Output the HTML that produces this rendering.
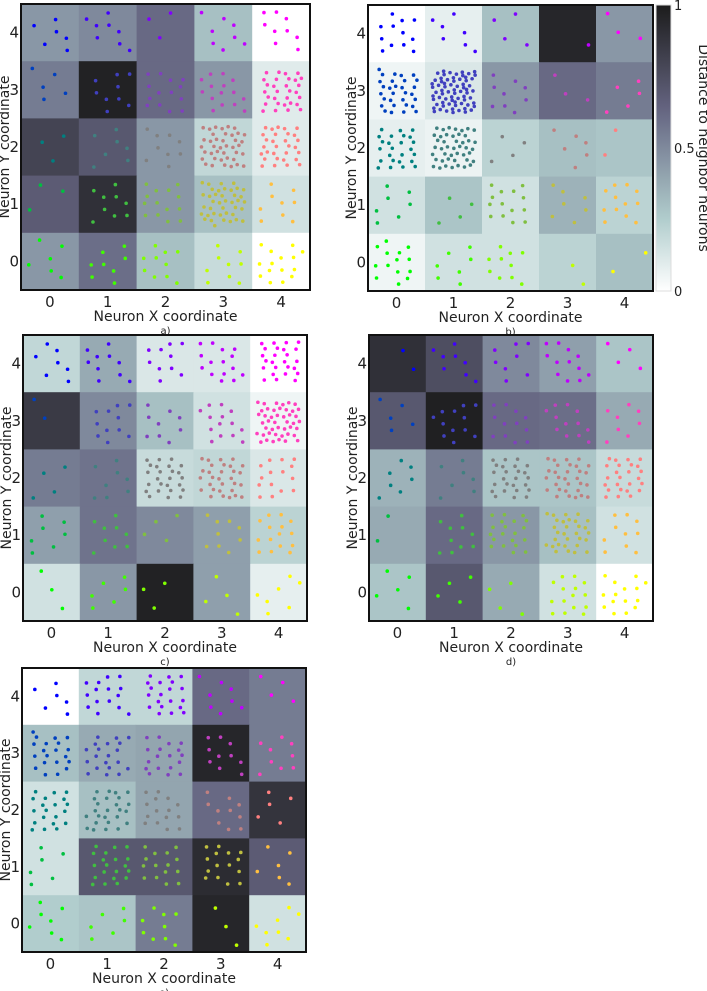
<!DOCTYPE html>
<html><head><meta charset="utf-8">
<style>
html,body{margin:0;padding:0;background:#fff;}
svg{display:block;font-family:"DejaVu Sans","Liberation Sans",sans-serif;}
</style></head>
<body>
<svg id="fig" width="707" height="991" viewBox="0 0 707 991">
<defs>
<linearGradient id="cbgrad" x1="0" y1="1" x2="0" y2="0"></linearGradient>
</defs>
</svg>
<script>
// Cell distance values, rows from y=4 (top) to y=0 (bottom), columns x=0..4
const valuesA = [[0.45,0.5,0.62,0.3,0.0],[0.55,0.97,0.62,0.45,0.1],[0.8,0.7,0.45,0.2,0.1],[0.68,0.9,0.45,0.3,0.15],[0.45,0.6,0.3,0.18,0.0]];
const valuesB = [[0.0,0.08,0.3,0.95,0.45],[0.05,0.12,0.45,0.62,0.55],[0.08,0.06,0.22,0.3,0.28],[0.15,0.28,0.15,0.35,0.22],[0.05,0.15,0.15,0.22,0.3]];
const valuesC = [[0.2,0.38,0.12,0.12,0.0],[0.85,0.5,0.3,0.15,0.05],[0.55,0.58,0.18,0.2,0.12],[0.42,0.58,0.5,0.42,0.22],[0.15,0.45,0.97,0.42,0.08]];
const valuesD = [[0.9,0.75,0.5,0.42,0.28],[0.7,0.98,0.62,0.6,0.38],[0.35,0.55,0.28,0.28,0.18],[0.38,0.62,0.45,0.3,0.15],[0.28,0.7,0.38,0.15,0.0]];
const valuesE = [[0.0,0.2,0.2,0.62,0.55],[0.3,0.38,0.4,0.95,0.55],[0.15,0.3,0.4,0.62,0.88],[0.15,0.7,0.7,0.92,0.68],[0.25,0.28,0.55,0.95,0.15]];
// Number of samples mapped to each neuron (same row order)
const countsA = [[6,8,3,8,9],[5,9,14,15,30],[3,7,9,40,30],[3,9,14,40,9],[6,8,10,9,15]];
const countsB = [[12,7,4,1,3],[30,70,9,3,5],[25,45,4,6,2],[7,4,14,7,12],[14,7,10,2,2]];
const countsC = [[7,10,10,15,25],[2,11,9,14,45],[4,8,25,30,15],[7,9,4,9,15],[3,6,3,4,7]];
const countsD = [[2,8,8,12,4],[5,12,12,12,8],[7,7,25,30,25],[2,10,20,30,10],[5,4,4,15,15]];
const countsE = [[6,15,20,8,4],[20,20,18,10,9],[20,25,15,10,5],[6,20,15,15,6],[7,6,9,3,8]];
const xTicks = ["0","1","2","3","4"];
const yTicks = ["0","1","2","3","4"];
const cbTicks = [0,0.5,1];
const cbTickLabels = ["0","0.5","1"];

const NS="http://www.w3.org/2000/svg";
const svg=document.getElementById('fig');
function mk(tag,attrs,parent){const e=document.createElementNS(NS,tag);for(const k in attrs)e.setAttribute(k,attrs[k]);(parent||svg).appendChild(e);return e;}

function lerpSeg(pts,t){for(let i=1;i<pts.length;i++){if(t<=pts[i][0]){const a=pts[i-1],b=pts[i];return a[1]+(b[1]-a[1])*(t-a[0])/(b[0]-a[0]);}}return pts[pts.length-1][1];}
function boneR(v){const t=1-Math.max(0,Math.min(1,v));
 const r=lerpSeg([[0,0],[0.746,0.653],[1,1]],t);
 const g=lerpSeg([[0,0],[0.365,0.319],[0.746,0.778],[1,1]],t);
 const b=lerpSeg([[0,0],[0.365,0.444],[1,1]],t);
 const c=x=>Math.round(28+x*227);
 return `rgb(${c(r)},${c(g)},${c(b)})`;}
function ptColor(x,y){return `rgb(${Math.round(255*x/4)},${Math.round(255*(4-y)/4)},${Math.round(255*y/4)})`;}

const panels=[
 {id:'a',vals:valuesA,cnt:countsA,x0:21,y0:4,x1:310,y1:290},
 {id:'b',vals:valuesB,cnt:countsB,x0:368,y0:5,x1:653,y1:291},
 {id:'c',vals:valuesC,cnt:countsC,x0:23,y0:335,x1:307,y1:621},
 {id:'d',vals:valuesD,cnt:countsD,x0:369,y0:335,x1:653,y1:621},
 {id:'e',vals:valuesE,cnt:countsE,x0:22,y0:668,x1:306,y1:952}
];

panels.forEach(p=>{
 const g=mk('g',{});
 
 
 const cw=(p.x1-p.x0)/5, ch=(p.y1-p.y0)/5;
 const xs=i=>p.x0+cw*(i+0.5);
 const ys=j=>p.y1-ch*(j+0.5);
 for(let r=0;r<5;r++)for(let c=0;c<5;c++){
  const ny=4-r;
  const rect=mk('rect',{x:p.x0+c*cw,y:p.y0+r*ch,width:cw+0.5,height:ch+0.5,fill:boneR(p.vals[r][c])},g);
  
  
  const n=p.cnt[r][c];
  const off1=(c*0.37+ny*0.53)%1, off2=(c*0.71+ny*0.19+0.3)%1;
  for(let k=0;k<n;k++){
   const a=(off1+(k+1)*0.7548776662)%1, b=(off2+(k+1)*0.5698402910)%1;
   const dot=mk('circle',{cx:xs(c)+(a-0.5)*cw*0.76,cy:ys(ny)+(b-0.5)*ch*0.76,r:1.8,fill:ptColor(c,ny)},g);
   
   
  }
 }
 const fr=mk('rect',{x:p.x0,y:p.y0,width:p.x1-p.x0,height:p.y1-p.y0,fill:'none',stroke:'#111','stroke-width':2},g);
 
 
 xTicks.forEach((t,i)=>{const e=mk('text',{x:xs(i),y:p.y1+17,'font-size':15,'text-anchor':'middle',fill:'#222'},g);e.textContent=t;
  });
 yTicks.forEach((t,i)=>{const e=mk('text',{x:p.x0-2,y:ys(i)+5,'font-size':15,'text-anchor':'end',fill:'#222'},g);e.textContent=t;
  });
 const xl=mk('text',{x:(p.x0+p.x1)/2,y:p.y1+31,'font-size':14,'text-anchor':'middle',fill:'#222'},g);
 xl.textContent='Neuron X coordinate';
 
 const yl=mk('text',{x:0,y:0,'font-size':14,'text-anchor':'middle',fill:'#222',transform:`translate(${p.x0-12},${(p.y0+p.y1)/2}) rotate(-90)`},g);
 yl.textContent='Neuron Y coordinate';
 
 const cap=mk('text',{x:(p.x0+p.x1)/2,y:p.y1+44,'font-size':10,'text-anchor':'middle',fill:'#222'},g);
 cap.textContent=p.id+')';
 
});

// colorbar
const grad=document.getElementById('cbgrad');
for(let i=0;i<=20;i++){mk('stop',{offset:(i/20),'stop-color':boneR(i/20)},grad);}
const cb={x:656,y0:5,y1:291,w:15};
const cbs=v=>cb.y1-(cb.y1-cb.y0)*v;
const cbr=mk('rect',{x:cb.x,y:cb.y0,width:cb.w,height:cb.y1-cb.y0,fill:'url(#cbgrad)',stroke:'#ddd','stroke-width':1});

cbTicks.forEach((v,i)=>{const e=mk('text',{x:cb.x+cb.w+3,y:cbs(v)+5,'font-size':13,fill:'#222'});e.textContent=cbTickLabels[i];
 });
const cbl=mk('text',{x:0,y:0,'font-size':14,'text-anchor':'middle',fill:'#222',transform:`translate(699,${(cb.y0+cb.y1)/2}) rotate(90)`});
cbl.textContent='Distance to neighbor neurons';

</script>
</body></html>
